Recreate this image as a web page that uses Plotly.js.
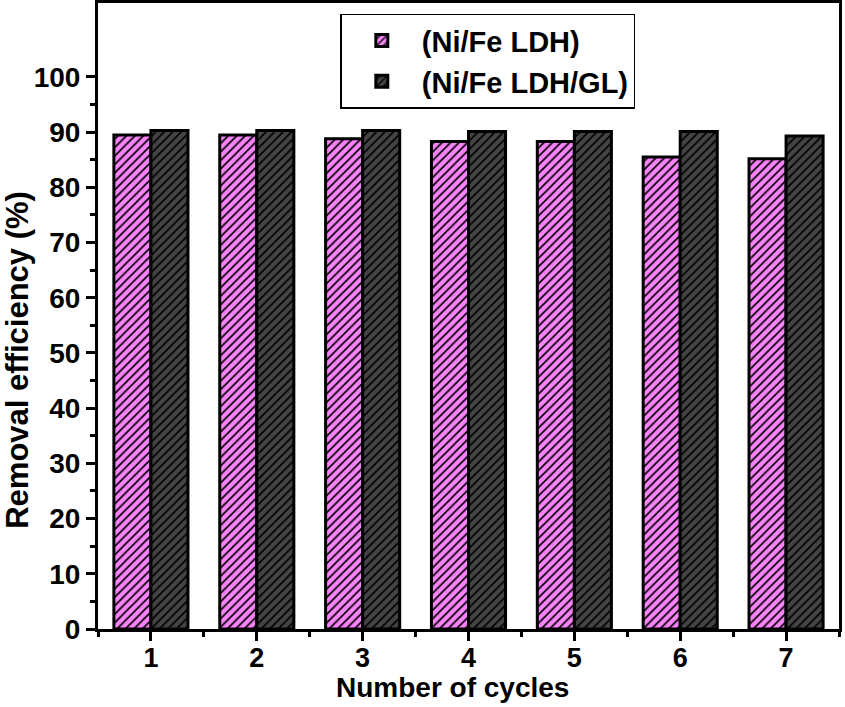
<!DOCTYPE html>
<html><head><meta charset="utf-8">
<script src="https://cdn.plot.ly/plotly-3.0.1.min.js"></script>
<style>body{margin:0;background:#fff}#chart{width:845px;height:707px}</style>
</head><body><div id="chart"></div>
<script>
const cycles = [1, 2, 3, 4, 5, 6, 7];
const ldh = [89.5, 89.5, 88.8, 88.3, 88.3, 85.5, 85.2];
const ldhGL = [90.3, 90.3, 90.3, 90.1, 90.1, 90.1, 89.3];
const seriesNames = ['(Ni/Fe LDH)', '(Ni/Fe LDH/GL)'];
const yTicks = [0, 10, 20, 30, 40, 50, 60, 70, 80, 90, 100];
const yMinor = [5, 15, 25, 35, 45, 55, 65, 75, 85, 95];

const F = 'Liberation Sans, Arial, sans-serif';
const mk = (bg) => ({
  color: bg,
  line: {color: '#000', width: 3},
  pattern: {shape: '/', fgcolor: '#000', bgcolor: bg, size: 6, solidity: 0.28, fillmode: 'replace'}
});
const traces = [
  {type: 'bar', x: cycles, y: ldh, name: seriesNames[0], marker: mk('#fa82fa')},
  {type: 'bar', x: cycles, y: ldhGL, name: seriesNames[1], marker: mk('#444444')}
];
const axisCommon = {
  showline: true, linewidth: 3, linecolor: '#000', mirror: true,
  ticks: 'outside', ticklen: 9, tickwidth: 3, tickcolor: '#000',
  showgrid: false, zeroline: false,
  tickfont: {family: F, size: 28, color: '#000', weight: 'bold'}
};
const layout = {
  width: 845, height: 707,
  margin: {l: 98, r: 6, t: 3, b: 78},
  paper_bgcolor: '#fff', plot_bgcolor: '#fff',
  barmode: 'group', bargap: 0.3, bargroupgap: 0,
  showlegend: true,
  legend: {
    x: 0.327, y: 0.983, xanchor: 'left', yanchor: 'top',
    bordercolor: '#000', borderwidth: 1.5, bgcolor: '#fff',
    font: {family: F, size: 29, color: '#000', weight: 'bold'},
    tracegroupgap: 0, itemwidth: 70
  },
  xaxis: Object.assign({}, axisCommon, {
    range: [0.5, 7.5], tickmode: 'array', tickvals: cycles, ticktext: cycles.map(String),
    ticklabelstandoff: -6,
    tickfont: {family: F, size: 27, color: '#000', weight: 'bold'},
    minor: {tickmode: 'linear', tick0: 0.5, dtick: 1, ticks: 'outside', ticklen: 5, tickwidth: 3, tickcolor: '#000'}
  }),
  yaxis: Object.assign({}, axisCommon, {
    range: [0, 113.4], tickmode: 'array', tickvals: yTicks, ticktext: yTicks.map(String),
    minor: {tickmode: 'array', tickvals: yMinor, ticks: 'outside', ticklen: 5, tickwidth: 3, tickcolor: '#000'}
  }),
  annotations: [
    {text: 'Removal efficiency (%)', xref: 'paper', yref: 'paper', x: -0.108, y: 0.43,
     xanchor: 'center', yanchor: 'middle', textangle: -90, showarrow: false,
     font: {family: F, size: 31, color: '#000', weight: 'bold'}},
    {text: 'Number of cycles', xref: 'paper', yref: 'paper', x: 0.479, y: -0.094,
     xanchor: 'center', yanchor: 'middle', showarrow: false,
     font: {family: F, size: 28, color: '#000', weight: 'bold'}}
  ]
};
Plotly.newPlot('chart', traces, layout, {displayModeBar: false, staticPlot: true});
</script></body></html>
